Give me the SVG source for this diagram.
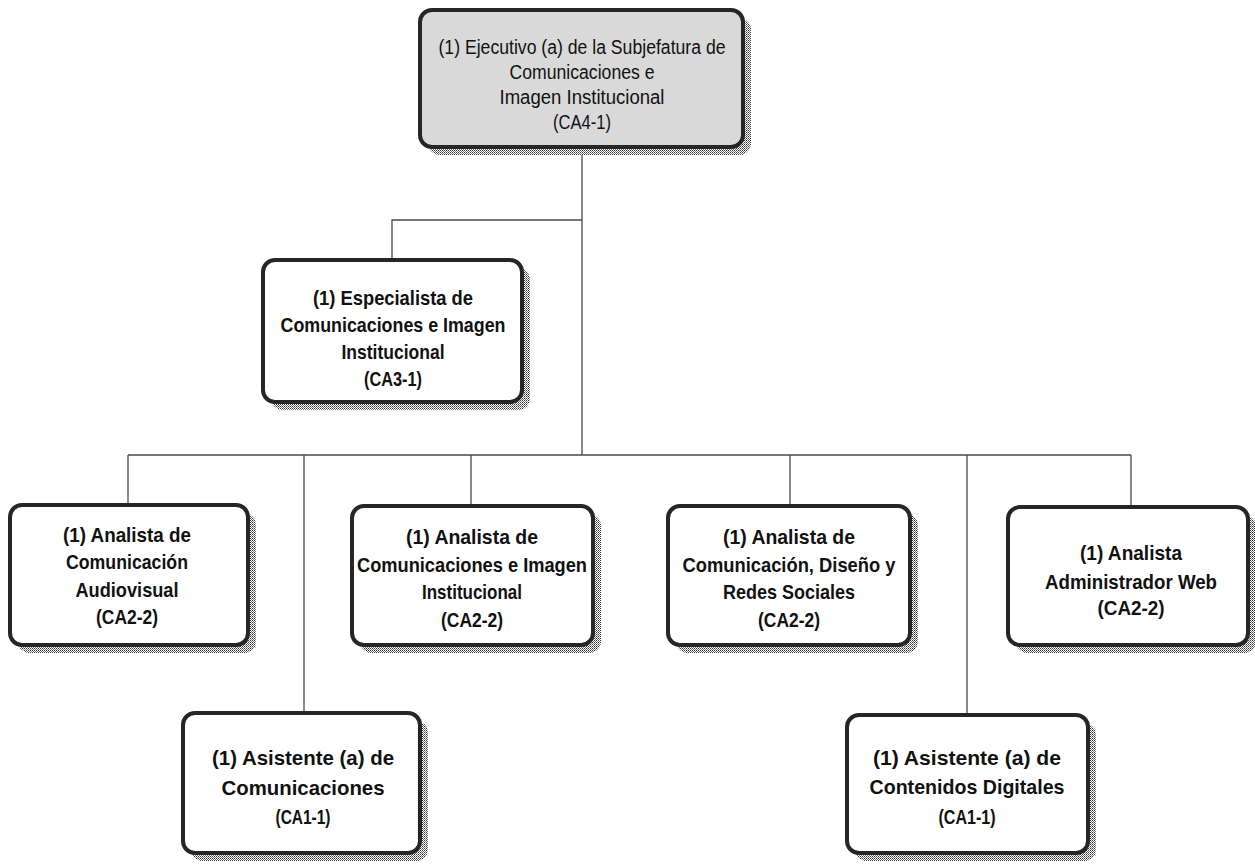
<svg xmlns="http://www.w3.org/2000/svg" width="1255" height="866" viewBox="0 0 1255 866">
<defs>
<pattern id="dots" width="2" height="2" patternUnits="userSpaceOnUse">
<rect width="2" height="2" fill="#ffffff"/>
<rect width="1" height="1" fill="#333333"/>
<rect x="1" y="1" width="1" height="1" fill="#777777"/>
</pattern>
<style>
.sh{fill:url(#dots);}
.bx{fill:#ffffff;stroke:#262626;stroke-width:4;}
.bx.g{fill:#d9d9d9;}
.t{font-family:"Liberation Sans",Arial,sans-serif;font-size:21px;font-weight:bold;text-anchor:middle;fill:#111111;}
.t.r{font-weight:normal;font-size:20px;}
.ln{stroke:#4a4a4a;stroke-width:1.3;fill:none;}
</style>
</defs>
<rect width="1255" height="866" fill="#ffffff"/>
<g id="connectors">
<path class="ln" d="M582 147 V455"/>
<path class="ln" d="M582 220 H392 V260"/>
<path class="ln" d="M128 455 H1131"/>
<path class="ln" d="M128 455 V505"/>
<path class="ln" d="M304 455 V713"/>
<path class="ln" d="M471 455 V506"/>
<path class="ln" d="M790 455 V506"/>
<path class="ln" d="M967 455 V715"/>
<path class="ln" d="M1131 455 V507"/>
</g>
<g id="n-ejecutivo">
<rect class="sh" x="428" y="18" width="323" height="137" rx="12"/>
<rect class="bx g" x="420" y="10" width="323" height="137" rx="12"/>
<text class="t r" x="582" y="54" textLength="287" lengthAdjust="spacingAndGlyphs">(1) Ejecutivo (a) de la Subjefatura de</text>
<text class="t r" x="582" y="79" textLength="145" lengthAdjust="spacingAndGlyphs">Comunicaciones e</text>
<text class="t r" x="582" y="104" textLength="165" lengthAdjust="spacingAndGlyphs">Imagen Institucional</text>
<text class="t r" x="582" y="129" textLength="58" lengthAdjust="spacingAndGlyphs">(CA4-1)</text>
</g>
<g id="n-especialista">
<rect class="sh" x="271" y="268" width="259" height="142" rx="12"/>
<rect class="bx" x="263" y="260" width="259" height="142" rx="12"/>
<text class="t" x="393" y="305" textLength="160" lengthAdjust="spacingAndGlyphs">(1) Especialista de</text>
<text class="t" x="393" y="332" textLength="225" lengthAdjust="spacingAndGlyphs">Comunicaciones e Imagen</text>
<text class="t" x="393" y="359" textLength="103" lengthAdjust="spacingAndGlyphs">Institucional</text>
<text class="t" x="393" y="386" textLength="58" lengthAdjust="spacingAndGlyphs">(CA3-1)</text>
</g>
<g id="n-audiovisual">
<rect class="sh" x="18" y="513" width="238" height="140" rx="12"/>
<rect class="bx" x="10" y="505" width="238" height="140" rx="12"/>
<text class="t" x="127" y="542" textLength="128" lengthAdjust="spacingAndGlyphs">(1) Analista de</text>
<text class="t" x="127" y="569" textLength="122" lengthAdjust="spacingAndGlyphs">Comunicación</text>
<text class="t" x="127" y="597" textLength="103" lengthAdjust="spacingAndGlyphs">Audiovisual</text>
<text class="t" x="127" y="624" textLength="62" lengthAdjust="spacingAndGlyphs">(CA2-2)</text>
</g>
<g id="n-comunicaciones-imagen">
<rect class="sh" x="360" y="514" width="241" height="139" rx="12"/>
<rect class="bx" x="352" y="506" width="241" height="139" rx="12"/>
<text class="t" x="472" y="544" textLength="132" lengthAdjust="spacingAndGlyphs">(1)  Analista de</text>
<text class="t" x="472" y="572" textLength="230" lengthAdjust="spacingAndGlyphs">Comunicaciones e Imagen</text>
<text class="t" x="472" y="599" textLength="100" lengthAdjust="spacingAndGlyphs">Institucional</text>
<text class="t" x="472" y="627" textLength="62" lengthAdjust="spacingAndGlyphs">(CA2-2)</text>
</g>
<g id="n-diseno">
<rect class="sh" x="676" y="514" width="242" height="139" rx="12"/>
<rect class="bx" x="668" y="506" width="242" height="139" rx="12"/>
<text class="t" x="789" y="544" textLength="132" lengthAdjust="spacingAndGlyphs">(1) Analista de</text>
<text class="t" x="789" y="572" textLength="213" lengthAdjust="spacingAndGlyphs">Comunicación, Diseño y</text>
<text class="t" x="789" y="599" textLength="132" lengthAdjust="spacingAndGlyphs">Redes Sociales</text>
<text class="t" x="789" y="627" textLength="62" lengthAdjust="spacingAndGlyphs">(CA2-2)</text>
</g>
<g id="n-web">
<rect class="sh" x="1016" y="515" width="240" height="138" rx="12"/>
<rect class="bx" x="1008" y="507" width="240" height="138" rx="12"/>
<text class="t" x="1131" y="560" textLength="102" lengthAdjust="spacingAndGlyphs">(1) Analista</text>
<text class="t" x="1131" y="589" textLength="172" lengthAdjust="spacingAndGlyphs">Administrador Web</text>
<text class="t" x="1131" y="615" textLength="67" lengthAdjust="spacingAndGlyphs">(CA2-2)</text>
</g>
<g id="n-asistente-comunicaciones">
<rect class="sh" x="191" y="721" width="237" height="140" rx="12"/>
<rect class="bx" x="183" y="713" width="237" height="140" rx="12"/>
<text class="t" x="303" y="765" textLength="182" lengthAdjust="spacingAndGlyphs">(1) Asistente (a) de</text>
<text class="t" x="303" y="795" textLength="163" lengthAdjust="spacingAndGlyphs">Comunicaciones</text>
<text class="t" x="303" y="824" textLength="55" lengthAdjust="spacingAndGlyphs">(CA1-1)</text>
</g>
<g id="n-asistente-contenidos">
<rect class="sh" x="855" y="723" width="241" height="138" rx="12"/>
<rect class="bx" x="847" y="715" width="241" height="138" rx="12"/>
<text class="t" x="967" y="765" textLength="188" lengthAdjust="spacingAndGlyphs">(1) Asistente (a) de</text>
<text class="t" x="967" y="794" textLength="195" lengthAdjust="spacingAndGlyphs">Contenidos Digitales</text>
<text class="t" x="967" y="824" textLength="57" lengthAdjust="spacingAndGlyphs">(CA1-1)</text>
</g>
</svg>
